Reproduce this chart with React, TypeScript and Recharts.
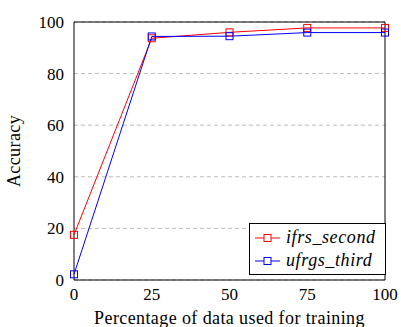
import { CartesianGrid, Line, LineChart, ReferenceArea, XAxis, YAxis } from 'recharts';

const percentages = [0, 25, 50, 75, 100];
const ifrsSecond = [17.5, 93.7, 96.0, 97.7, 97.7];
const ufrgsThird = [2.2, 94.4, 94.5, 95.9, 95.9];
const xTicks = [0, 25, 50, 75, 100];
const yTicks = [0, 20, 40, 60, 80, 100];
const seriesNames = ['ifrs_second', 'ufrgs_third'];
const seriesColors = ['#ff0000', '#0000ff'];

const data = percentages.map((p, i) => ({ p, ifrs: ifrsSecond[i], ufrgs: ufrgsThird[i] }));

const font = '"Liberation Serif", "DejaVu Serif", serif';

function SquareDot(props: any) {
  const { cx, cy, stroke } = props;
  if (cx == null || cy == null) return null;
  return <rect x={cx - 3.5} y={cy - 3.5} width={7} height={7} fill="none" stroke={stroke} strokeWidth={1} />;
}

const renderXTick = (props: any) => (
  <text x={props.x} y={props.y} dy={12} textAnchor="middle" style={{ fontSize: 17, fill: '#000', fontFamily: font }}>
    {props.payload.value}
  </text>
);

const renderYTick = (props: any) => (
  <text x={props.x} y={props.y} dy={6} textAnchor="end" style={{ fontSize: 17, fill: '#000', fontFamily: font }}>
    {props.payload.value}
  </text>
);

function LegendBox() {
  return (
    <div style={{ position: 'absolute', left: 249, top: 223, border: '1px solid #000', background: '#fff', width: 137, height: 52, padding: '2px 0', boxSizing: 'border-box', fontFamily: font }}>
      {seriesNames.map((name, i) => (
        <div key={name} style={{ display: 'flex', alignItems: 'center', height: 23 }}>
          <svg width={32} height={12} style={{ marginLeft: 4, flex: 'none' }}>
            <line x1={1} y1={6} x2={26} y2={6} stroke={seriesColors[i]} strokeWidth={1} />
            <rect x={10} y={2.5} width={7} height={7} fill="#fff" stroke={seriesColors[i]} />
          </svg>
          <span style={{ fontStyle: 'italic', fontSize: 18, letterSpacing: 0.6, color: '#000', whiteSpace: 'nowrap' }}>{name}</span>
        </div>
      ))}
    </div>
  );
}

export default function App() {
  const labelStyle = { fontSize: 18, letterSpacing: 0.4, fill: '#000', fontFamily: font };
  return (
    <div style={{ position: 'absolute', left: 0, top: 0, width: 401, height: 327, background: '#fff' }}>
      <LineChart width={401} height={327} data={data} margin={{ top: 22, right: 16, bottom: 0, left: 0 }}>
        <CartesianGrid vertical={false} stroke="#bbbbbb" strokeDasharray="4 3" />
        <XAxis dataKey="p" type="number" domain={[0, 100]} ticks={xTicks} height={47} axisLine={false} tickLine={false} tick={renderXTick} tickMargin={2}
          label={{ value: 'Percentage of data used for training', position: 'insideBottom', offset: 3, style: labelStyle }} />
        <XAxis xAxisId="b" type="number" domain={[0, 100]} ticks={xTicks} mirror height={0} tick={false} tickSize={4} axisLine={false} tickLine={{ stroke: '#000' }} />
        <XAxis xAxisId="t" orientation="top" type="number" domain={[0, 100]} ticks={xTicks} mirror height={0} tick={false} tickSize={4} axisLine={false} tickLine={{ stroke: '#000' }} />
        <YAxis type="number" domain={[0, 100]} ticks={yTicks} width={74} axisLine={false} tickLine={false} tick={renderYTick} tickMargin={4}
          label={{ value: 'Accuracy', angle: -90, position: 'insideLeft', offset: 14, style: { ...labelStyle, textAnchor: 'middle' } }} />
        <YAxis yAxisId="l" type="number" domain={[0, 100]} ticks={yTicks} mirror width={0} tick={false} tickSize={4} axisLine={false} tickLine={{ stroke: '#000' }} />
        <YAxis yAxisId="r" orientation="right" type="number" domain={[0, 100]} ticks={yTicks} mirror width={0} tick={false} tickSize={4} axisLine={false} tickLine={{ stroke: '#000' }} />
        <ReferenceArea x1={0} x2={100} y1={0} y2={100} fill="none" stroke="#000" strokeWidth={1} ifOverflow="visible" />
        <Line dataKey="ifrs" stroke={seriesColors[0]} strokeWidth={1} dot={<SquareDot />} activeDot={false} isAnimationActive={false} />
        <Line dataKey="ufrgs" stroke={seriesColors[1]} strokeWidth={1} dot={<SquareDot />} activeDot={false} isAnimationActive={false} />
      </LineChart>
      <LegendBox />
    </div>
  );
}
